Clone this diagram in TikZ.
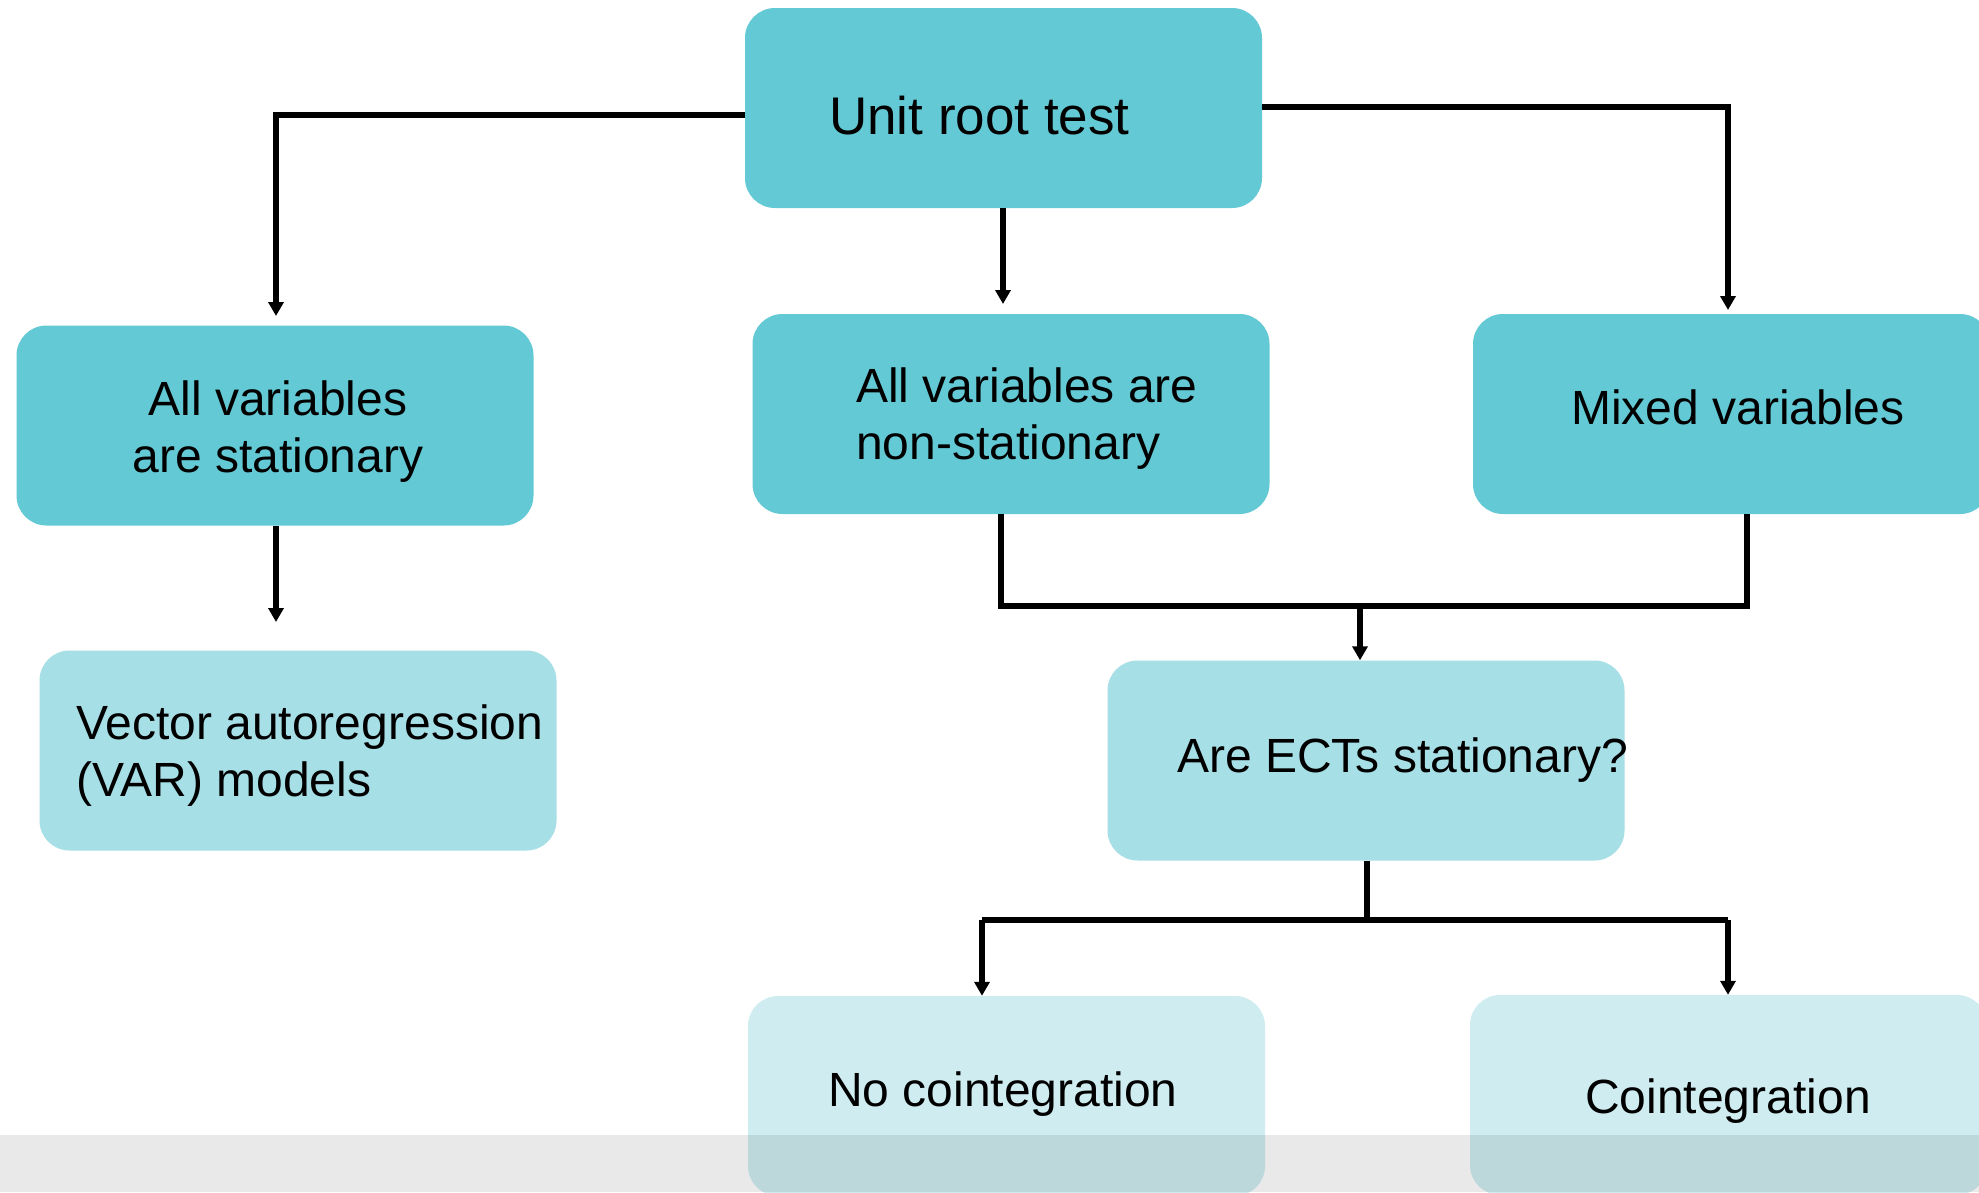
\documentclass[tikz,border=0pt]{standalone}
\usepackage{fontspec}
\setmainfont{Liberation Sans}
\usetikzlibrary{arrows.meta}
\definecolor{tealdark}{HTML}{63C9D4}
\definecolor{tealmid}{HTML}{A7DFE6}
\definecolor{teallight}{HTML}{CFEDF0}
\begin{document}
\begin{tikzpicture}[x=1pt,y=-1pt,
  box/.style={rounded corners=30pt,minimum width=517pt,minimum height=200pt,inner sep=0pt,draw=none},
  lbl/.style={font=\fontsize{48}{57}\selectfont,inner sep=0pt,text=black},
  conn/.style={line width=5.2pt,-{Triangle[width=15pt,length=14pt]}},
  seg/.style={line width=5.2pt}]
\useasboundingbox (0,0) rectangle (1979,1192);
\fill[white] (0,0) rectangle (1979,1192);
% boxes
\node[box,fill=tealdark] (b1) at (1003.5,108) {};
\node[box,fill=tealdark] (b2) at (275,425.5) {};
\node[box,fill=tealdark] (b3) at (1011,414) {};
\node[box,fill=tealdark] (b4) at (1731.5,414) {};
\node[box,fill=tealmid] (b5) at (298,750.5) {};
\node[box,fill=tealmid] (b6) at (1366,760.5) {};
\node[box,fill=teallight] (b7) at (1006.5,1096) {};
\node[box,fill=teallight] (b8) at (1728.5,1095) {};
% texts
\node[lbl,font=\fontsize{53}{60}\selectfont,anchor=west] (t1) at (829,116) {Unit root test};
\node[lbl,align=center] (t2) at (278,431.5) {All variables\\are stationary};
\node[lbl,align=left,anchor=west] (t3) at (856,418.5) {All variables are\\non-stationary};
\node[lbl] (t4) at (1738,407) {Mixed variables};
\node[lbl,align=left,anchor=west] (t5) at (76,755.5) {Vector autoregression\\(VAR) models};
\node[lbl,anchor=west] (t6) at (1177,760) {Are ECTs stationary?};
\node[lbl] (t7) at (1003,1094) {No cointegration};
\node[lbl] (t8) at (1728,1101) {Cointegration};
% connectors
\coordinate (c1a) at (745,115);
\coordinate (c1b) at (276,316);
\draw[conn] (c1a) -| (c1b);
\coordinate (c2b) at (1003,304);
\draw[conn] (b1.south -| c2b) -- (c2b);
\coordinate (c3a) at (1262,107);
\coordinate (c3b) at (1728,310);
\draw[conn] (c3a) -| (c3b);
\coordinate (c4b) at (276,622);
\draw[conn] (b2.south -| c4b) -- (c4b);
\coordinate (j3) at (1001,606);
\coordinate (j4) at (1747,606);
\coordinate (jm) at (1360,606);
\draw[seg] (b3.south -| j3) -- (j3) -- (j4) -- (b4.south -| j4);
\draw[conn] (jm) -- (b6.north -| jm);
\coordinate (k0) at (1367,920);
\coordinate (kl) at (982,920);
\coordinate (kr) at (1728,920);
\draw[seg] (b6.south -| k0) -- (k0);
\draw[seg] (kl) -- (kr);
\draw[conn] (kl) -- (b7.north -| kl);
\draw[conn] (kr) -- (b8.north -| kr);
% bottom band
\fill[black,opacity=0.085] (0,1135) rectangle (1979,1192);
\end{tikzpicture}
\end{document}
